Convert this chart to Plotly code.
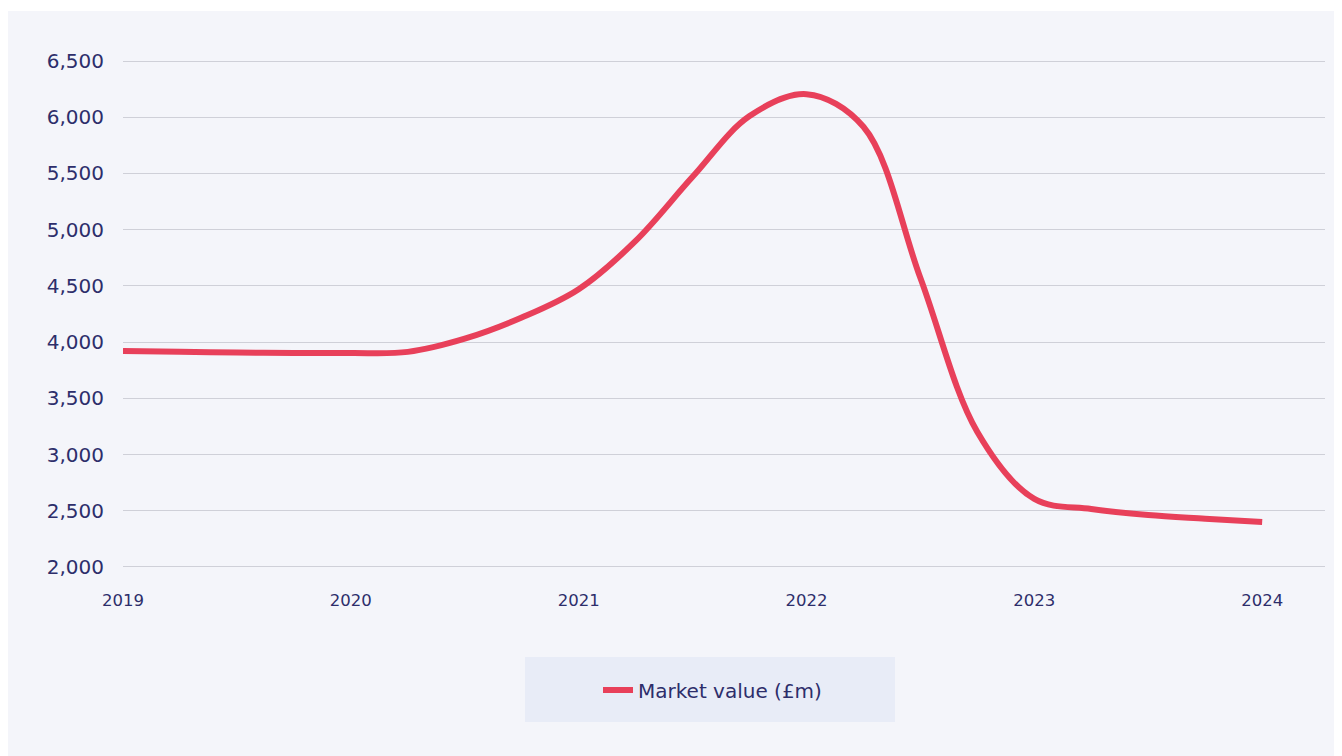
import plotly.graph_objects as go

# quarterly readings of market value (£m)
periods = [2019.0, 2019.25, 2019.5, 2019.75, 2020.0, 2020.25, 2020.5, 2020.75,
           2021.0, 2021.25, 2021.5, 2021.75, 2022.0, 2022.25, 2022.5, 2022.75,
           2023.0, 2023.25, 2023.5, 2023.75, 2024.0]
market_value = [3922, 3914, 3907, 3903, 3903, 3913, 4030, 4218,
                4470, 4900, 5470, 6010, 6205, 5915, 4570, 3200,
                2605, 2515, 2462, 2430, 2400]
year_ticks = [2019, 2020, 2021, 2022, 2023, 2024]
value_ticks = [2000, 2500, 3000, 3500, 4000, 4500, 5000, 5500, 6000, 6500]

BG = "#F4F5FA"
TEXT = "#2D2E6B"
RED = "#E8405A"
FONT = "DejaVu Sans"

fig = go.Figure()
fig.add_trace(go.Scatter(
    x=periods, y=market_value, mode="lines", name="Market value (£m)",
    line=dict(color=RED, width=6, shape="spline", smoothing=1.0),
    hoverinfo="x+y",
))

# figure is placed at (8, 8) on the page
W, H = 1342, 756
L, R, T, B = 115, 1317, 52, 560
pw, ph = R - L, B - T

def px(xpix):
    return (xpix - L) / pw

def py(ypix):
    return (B - ypix) / ph

shapes = [
    dict(type="rect", xref="paper", yref="paper", layer="below",
         x0=px(-5), x1=px(W + 5), y0=py(3), y1=py(-5),
         fillcolor="white", line=dict(width=0)),
    dict(type="rect", xref="paper", yref="paper", layer="below",
         x0=px(517), x1=px(887), y0=py(649), y1=py(714),
         fillcolor="#E8ECF7", line=dict(width=0)),
]

fig.update_layout(
    width=W, height=H,
    margin=dict(l=L, r=W - R, t=T, b=H - B, autoexpand=False),
    paper_bgcolor=BG,
    plot_bgcolor=BG,
    font=dict(family=FONT, color=TEXT, size=17),
    shapes=shapes,
    showlegend=True,
    legend=dict(
        orientation="h", x=px(590), y=py(682), xanchor="left", yanchor="middle",
        bgcolor="rgba(0,0,0,0)", font=dict(size=20, color=TEXT, family=FONT),
    ),
    xaxis=dict(
        range=[2019, 2019 + (1325 - 120) / 228.4],
        tickvals=year_ticks, ticktext=[str(y) for y in year_ticks],
        showgrid=False, zeroline=False, showline=False,
        ticks="", ticklabelstandoff=20,
        tickfont=dict(size=16.5, color=TEXT, family=FONT),
    ),
    yaxis=dict(
        range=[1991, 6509],
        tickvals=value_ticks, tickformat=",",
        showgrid=True, gridcolor="#CFD0D8", gridwidth=1,
        zeroline=False, showline=False, ticks="",
        ticklabelstandoff=18,
        tickfont=dict(size=20, color=TEXT, family=FONT),
    ),
)

fig.write_html("out.html")
